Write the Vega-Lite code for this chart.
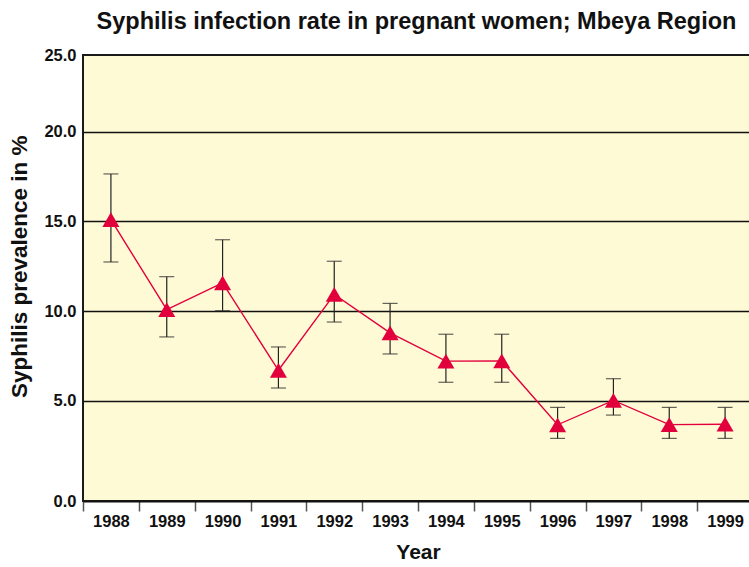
{
  "$schema": "https://vega.github.io/schema/vega-lite/v6.json",
  "autosize": "none",
  "width": 667,
  "height": 446,
  "padding": {"left": 83, "top": 55, "right": 0, "bottom": 66},
  "background": "white",
  "title": {
    "text": "Syphilis infection rate in pregnant women; Mbeya Region",
    "font": "Liberation Sans",
    "fontSize": 23.5,
    "fontWeight": "bold",
    "color": "#111111",
    "anchor": "middle",
    "offset": 14
  },
  "config": {
    "view": {"fill": "#FFFAD6", "stroke": "#1a1a1a", "strokeWidth": 2},
    "axis": {"labelFont": "Liberation Sans", "titleFont": "Liberation Sans", "labelColor": "#111111", "titleColor": "#111111"}
  },
  "data": {
    "values": [
      {"year": "1988", "rate": 15.1, "low": 12.74, "high": 17.65},
      {"year": "1989", "rate": 10.08, "low": 8.56, "high": 11.92},
      {"year": "1990", "rate": 11.57, "low": 10.02, "high": 13.98},
      {"year": "1991", "rate": 6.7, "low": 5.71, "high": 8.0},
      {"year": "1992", "rate": 10.93, "low": 9.39, "high": 12.78},
      {"year": "1993", "rate": 8.79, "low": 7.61, "high": 10.43},
      {"year": "1994", "rate": 7.21, "low": 6.03, "high": 8.71},
      {"year": "1995", "rate": 7.22, "low": 6.03, "high": 8.71},
      {"year": "1996", "rate": 3.66, "low": 2.9, "high": 4.63},
      {"year": "1997", "rate": 5.02, "low": 4.2, "high": 6.23},
      {"year": "1998", "rate": 3.67, "low": 2.9, "high": 4.63},
      {"year": "1999", "rate": 3.69, "low": 2.9, "high": 4.63}
    ]
  },
  "encoding": {
    "x": {
      "field": "year",
      "type": "ordinal",
      "scale": {"type": "band", "paddingInner": 0, "paddingOuter": 0, "range": [0, 670]},
      "axis": {
        "title": "Year",
        "titleFontSize": 21,
        "titleFontWeight": "bold",
        "titlePadding": 12,
        "labelAngle": 0,
        "labelFontSize": 16.5,
        "labelFontWeight": "bold",
        "labelPadding": 2,
        "tickBand": "extent",
        "tickSize": 10,
        "tickColor": "#555555",
        "tickWidth": 1.5,
        "domainColor": "#111111",
        "domainWidth": 2,
        "grid": false
      }
    }
  },
  "layer": [
    {
      "mark": {"type": "rule", "color": "#222222", "strokeWidth": 1.2},
      "encoding": {
        "y": {
          "field": "low",
          "type": "quantitative",
          "scale": {"domain": [0, 25], "range": [435.4, -12.85], "nice": false, "zero": false},
          "axis": {
            "title": "Syphilis prevalence in %",
            "titleFontSize": 22.5,
            "titleFontWeight": "bold",
            "titlePadding": 12,
            "values": [0, 5, 10, 15, 20, 25],
            "format": ".1f",
            "labelFontSize": 16.5,
            "labelFontWeight": "bold",
            "labelPadding": 7,
            "labelOffset": {"condition": [{"test": "datum.value == 0", "value": 11}, {"test": "datum.value == 25", "value": 13}], "value": 0},
            "ticks": false,
            "domain": false,
            "grid": true,
            "gridColor": "#111111",
            "gridWidth": 1.5,
            "gridOpacity": {"condition": {"test": "datum.value == 0 || datum.value == 25", "value": 0}, "value": 1}
          }
        },
        "y2": {"field": "high"}
      }
    },
    {
      "mark": {"type": "tick", "color": "#222222", "thickness": 1.2, "size": 15},
      "encoding": {"y": {"field": "low", "type": "quantitative"}}
    },
    {
      "mark": {"type": "tick", "color": "#222222", "thickness": 1.2, "size": 15},
      "encoding": {"y": {"field": "high", "type": "quantitative"}}
    },
    {
      "mark": {"type": "line", "color": "#E2003C", "strokeWidth": 1.4},
      "encoding": {"y": {"field": "rate", "type": "quantitative"}}
    },
    {
      "mark": {"type": "point", "shape": "triangle-up", "filled": true, "color": "#E2003C", "opacity": 1, "size": 290},
      "encoding": {"y": {"field": "rate", "type": "quantitative"}}
    }
  ]
}
